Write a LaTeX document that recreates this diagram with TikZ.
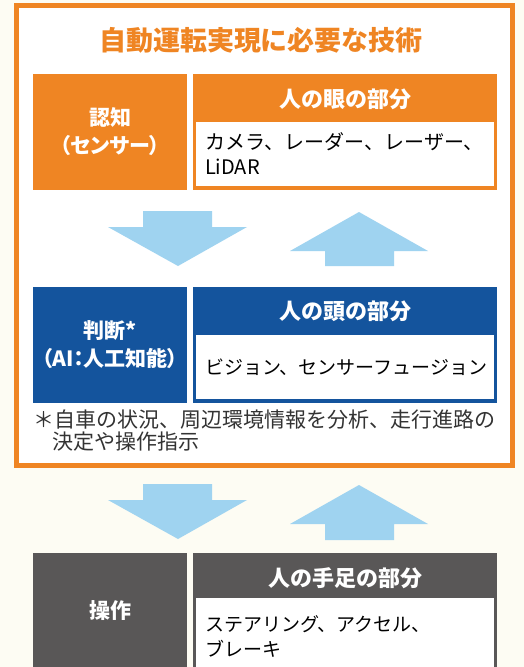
\documentclass[tikz,border=0pt]{standalone}
\usepackage{fontspec}
\setmainfont{Noto Sans CJK JP}
\newfontfamily\cjkp[RawFeature=+palt]{Noto Sans CJK JP}
\definecolor{jpcream}{HTML}{FDFCF3}
\definecolor{jporange}{HTML}{EF8523}
\definecolor{jpblue}{HTML}{14549D}
\definecolor{jpgray}{HTML}{595757}
\definecolor{jpsky}{HTML}{9FD3F0}
\definecolor{jpnote}{HTML}{333333}

\begin{document}
\begin{tikzpicture}[x=1pt, y=-1pt,
  sidebox/.style={minimum width=154pt, minimum height=116pt, inner sep=0pt,
    text=white, align=center, font=\cjkp\bfseries\fontsize{21}{28}\selectfont},
  partbox/.style={minimum width=304pt, minimum height=116pt, inner sep=0pt},
  parthead/.style={text=white, inner sep=0pt, font=\bfseries\fontsize{22}{26}\selectfont},
  partbody/.style={fill=white, minimum height=64pt, text width=280pt,
    inner xsep=9pt, inner ysep=0pt, align=left, font=\fontsize{19}{25}\selectfont},
  flow/.style={fill=jpsky},
  note/.style={anchor=west, inner sep=0pt, text=jpnote, font=\fontsize{21}{22}\selectfont}]
% background and frame
\fill[jpcream] (0,0) rectangle (524,667);
\clip (0,0) rectangle (524,667);
\draw[jporange, line width=5pt, fill=white] (16,5) rectangle (512.5,465.5);
\node[text=jporange, font=\bfseries\fontsize{27}{30}\selectfont] (title) at (261,40) {自動運転実現に必要な技術};

% recognition
\node[sidebox, fill=jporange] (ninchi) at (110,132) {認知\\（センサー）};
\node[partbox, fill=jporange] (eye) at (345,132) {};
\node[parthead] (eyehead) at (345,99) {人の眼の部分};
\node[partbody, font=\fontsize{20}{25}\selectfont] (eyebody) at (345,154) {カメラ、レーダー、レーザー、\\LiDAR};

\fill[flow] (143,211) -- (212,211) -- (212,227) -- (247,227) -- (178,266) -- (108,227) -- (143,227) -- cycle;
\fill[flow] (359,212) -- (428,251) -- (394,251) -- (394,266) -- (325,266) -- (325,251) -- (290,251) -- cycle;

% judgement
\node[sidebox, fill=jpblue] (handan) at (110,345) {判断*\\（AI：人工知能）};
\node[partbox, fill=jpblue] (head) at (345,345) {};
\node[parthead] (headhead) at (345,311) {人の頭の部分};
\node[partbody] (headbody) at (345,367) {ビジョン、センサーフュージョン};
\node[note] (note) at (33,420) {＊自車の状況、周辺環境情報を分析、走行進路の};
\node[note] (note2) at (52,442) {決定や操作指示};

\fill[flow] (143,484) -- (212,484) -- (212,500) -- (247,500) -- (178,539) -- (108,500) -- (143,500) -- cycle;
\fill[flow] (359,485) -- (428,524) -- (394,524) -- (394,540) -- (325,540) -- (325,524) -- (290,524) -- cycle;

% operation
\node[sidebox, fill=jpgray] (sousa) at (110,611) {操作};
\node[partbox, fill=jpgray] (limb) at (345,611) {};
\node[parthead] (limbhead) at (345,578) {人の手足の部分};
\node[partbody, minimum height=76pt] (limbbody) at (345,636) {ステアリング、アクセル、\\ブレーキ};
\end{tikzpicture}
\end{document}
